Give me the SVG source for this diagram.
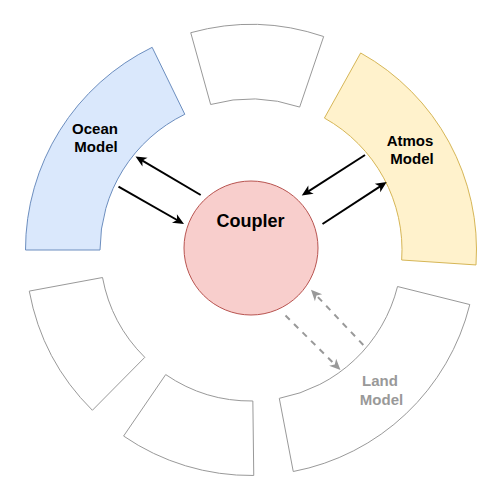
<svg xmlns="http://www.w3.org/2000/svg" width="495" height="495" viewBox="0 0 495 495">
<style>
.seg{stroke-width:1}
.gray{fill:#ffffff;stroke:#999999}
.lbl{font-family:"Liberation Sans",Arial,Helvetica,sans-serif;font-weight:bold;font-size:15px;text-anchor:middle;fill:#000000}
.arr{fill:none;stroke:#000000;stroke-width:2}
.dash{fill:none;stroke:#999999;stroke-width:2;stroke-dasharray:6 6}
</style>
<defs>
<marker id="ah" markerUnits="userSpaceOnUse" viewBox="-6 -6 13 12" markerWidth="13" markerHeight="12" refX="0" refY="0" orient="auto">
<path d="M6,0 L-5,5 L-2,0 L-5,-5 Z" fill="#000000"/>
</marker>
<marker id="ahg" markerUnits="userSpaceOnUse" viewBox="-6 -6 13 12" markerWidth="13" markerHeight="12" refX="0" refY="0" orient="auto">
<path d="M6,0 L-5,5 L-2,0 L-5,-5 Z" fill="#999999"/>
</marker>
</defs>
<rect width="495" height="495" fill="#ffffff"/>
<g id="ocean">
<path class="seg" d="M152.15,47.32 A225.5,225.5 0 0 0 25.5,250 L100,250 A151,151 0 0 1 184.81,114.28 Z" fill="#dae8fc" stroke="#6c8ebf"/>
<text class="lbl" x="95" y="134">Ocean</text>
<text class="lbl" x="96" y="152">Model</text>
</g>
<g id="top-segment">
<path class="seg gray" d="M323.67,36.53 A225.5,225.5 0 0 0 190.74,32.70 L210.65,104.49 A151,151 0 0 1 299.66,107.06 Z"/>
</g>
<g id="atmos">
<path class="seg" d="M476,264.94 A225.5,225.5 0 0 0 360.66,52.96 L324.43,118.06 A151,151 0 0 1 401.67,260.01 Z" fill="#fff2cc" stroke="#d6b656"/>
<text class="lbl" x="410" y="146">Atmos</text>
<text class="lbl" x="412" y="164">Model</text>
</g>
<g id="land">
<path class="seg gray" d="M293.25,471.51 A225.5,225.5 0 0 0 469.80,304.55 L397.52,286.53 A151,151 0 0 1 279.29,398.33 Z"/>
<text class="lbl" x="380" y="386" fill="#999999" style="fill:#999999">Land</text>
<text class="lbl" x="381.5" y="404.5" style="fill:#999999">Model</text>
</g>
<g id="bottom-segment">
<path class="seg gray" d="M123.60,436.06 A225.5,225.5 0 0 0 253.76,475.48 L252.85,400.99 A151,151 0 0 1 165.69,374.59 Z"/>
</g>
<g id="bottom-left-segment">
<path class="seg gray" d="M29.28,291.10 A225.5,225.5 0 0 0 92.39,410.29 L144.79,357.33 A151,151 0 0 1 102.53,277.52 Z"/>
</g>
<g id="coupler">
<circle cx="251" cy="248" r="67" fill="#f8cecc" stroke="#b85450"/>
<text class="lbl" x="250.5" y="226.5" style="font-size:18px">Coupler</text>
</g>
<g id="connectors">
<path class="arr" d="M200.7,195 L140.7,159.6" marker-end="url(#ah)"/>
<path class="arr" d="M118.5,186.7 L178.8,221" marker-end="url(#ah)"/>
<path class="arr" d="M365,155 L306.8,192.3" marker-end="url(#ah)"/>
<path class="arr" d="M322.5,224 L381.7,185.3" marker-end="url(#ah)"/>
<path class="dash" d="M285.5,315.5 L336.2,365.8" marker-end="url(#ahg)"/>
<path class="dash" d="M363.3,345 L315.1,294.1" marker-end="url(#ahg)"/>
</g>
</svg>
